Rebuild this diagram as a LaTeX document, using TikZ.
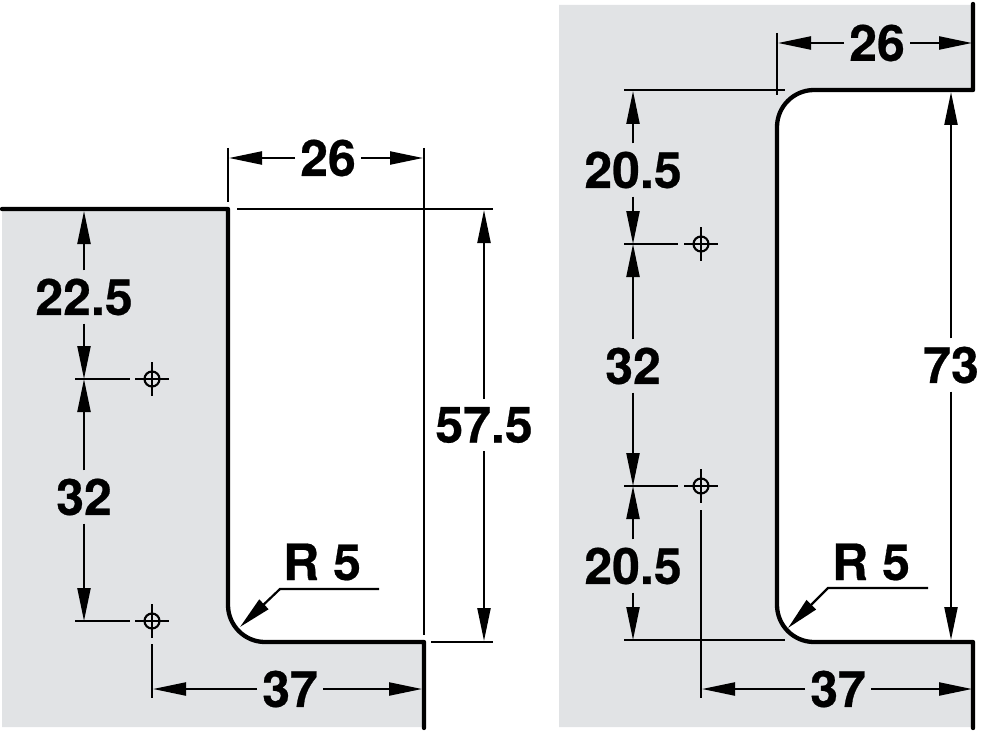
\documentclass[tikz,border=0pt]{standalone}
\usepackage{fontspec}
\setmainfont[BoldFeatures={FakeBold=0.5}]{TeX Gyre Heros}
\usetikzlibrary{arrows.meta}
\definecolor{panelgray}{HTML}{E1E3E5}
\tikzset{
    profile/.style={line width=4.3pt, line cap=round, line join=round},
    thinline/.style={line width=2.2pt},
    dimarrow/.style={thinline, -{Triangle[length=33pt,width=13pt]}},
    dimtext/.style={font=\fontsize{50}{52}\bfseries\selectfont, inner xsep=5pt, inner ysep=8pt},
    hole/.pic={
        \draw[line width=2.1pt] (0,0) circle (7.5);
        \draw[line width=2.1pt] (-17,0) -- (17,0) (0,-17) -- (0,17);
    }
}
\begin{document}
\begin{tikzpicture}[x=1pt,y=-1pt]
    \useasboundingbox (0,0) rectangle (992,730);

    % Left part: grey faces
    \fill[panelgray] (2,210) -- (228,210) -- (228,605) .. controls (228,625.4) and (244.6,642) .. (265,642)
        -- (424,642) -- (424,727) -- (2,727) -- cycle;
    % Right part: grey faces
    \fill[panelgray] (559,5) -- (973,5) -- (973,90) -- (814,90) .. controls (793.6,90) and (777,106.6) .. (777,127)
        -- (777,605) .. controls (777,625.4) and (793.6,642) .. (814,642)
        -- (973,642) -- (973,727) -- (559,727) -- cycle;

    % Left part: outline
    \draw[profile] (2,209) -- (228,209) -- (228,605) .. controls (228,625.4) and (244.6,642) .. (265,642)
        -- (424,642) -- (424,728);
    % Right part: outline
    \draw[profile] (973,4) -- (973,90) -- (814,90) .. controls (793.6,90) and (777,106.6) .. (777,127)
        -- (777,605) .. controls (777,625.4) and (793.6,642) .. (814,642)
        -- (973,642) -- (973,728);

    % Mounting holes
    \pic at (152,379) {hole};
    \pic at (152,621) {hole};
    \pic at (701,244) {hole};
    \pic at (701,486) {hole};

    % Left part: extension lines
    \draw[thinline] (228,148) -- (228,202);
    \draw[thinline] (424,148) -- (424,635);
    \draw[thinline] (237,209) -- (493,209);
    \draw[thinline] (431,642) -- (493,642);
    \draw[thinline] (75,379) -- (130,379);
    \draw[thinline] (75,621) -- (130,621);
    \draw[thinline] (152,644) -- (152,698);

    % Left part: labels
    \node[dimtext] (widthL) at (328,158) {26};
    \node[dimtext] (depthL) at (484,425) {57.5};
    \node[dimtext] (topL) at (84,297) {22.5};
    \node[dimtext] (holesL) at (84,497) {32};
    \node[dimtext] (baseL) at (290,689) {37};
    \node[dimtext, inner sep=0pt] (radiusL) at (322,562) {R 5};

    % Left part: named ends of the dimension lines
    \coordinate (wLa) at (229,158);
    \coordinate (wLb) at (423,158);
    \coordinate (dLa) at (484,210);
    \coordinate (dLb) at (484,641);
    \coordinate (tLa) at (84,211);
    \coordinate (tLb) at (84,379);
    \coordinate (hLa) at (84,379);
    \coordinate (hLb) at (84,621);
    \coordinate (bLa) at (153,689);
    \coordinate (bLb) at (422,689);

    % Left part: dimension arrows
    \draw[dimarrow] (widthL) -- (wLa);
    \draw[dimarrow] (widthL) -- (wLb);
    \draw[dimarrow] (depthL) -- (dLa);
    \draw[dimarrow] (depthL) -- (dLb);
    \draw[dimarrow] (topL) -- (tLa);
    \draw[dimarrow] (topL) -- (tLb);
    \draw[dimarrow] (holesL) -- (hLa);
    \draw[dimarrow] (holesL) -- (hLb);
    \draw[dimarrow] (baseL) -- (bLa);
    \draw[dimarrow] (baseL) -- (bLb);
    \coordinate (rLend) at (379,589);
    \coordinate (rLtip) at (240,627);
    \draw[dimarrow] (rLend) -- (280,589) -- (rLtip);

    % Right part: extension lines
    \draw[thinline] (777,33) -- (777,95);
    \draw[thinline] (624,90) -- (785,90);
    \draw[thinline] (624,244) -- (678,244);
    \draw[thinline] (624,486) -- (678,486);
    \draw[thinline] (624,640) -- (785,640);
    \draw[thinline] (701,510) -- (701,698);

    % Right part: labels
    \node[dimtext] (widthR) at (877,43) {26};
    \node[dimtext] (heightR) at (951,365) {73};
    \node[dimtext] (topR) at (633,170) {20.5};
    \node[dimtext] (holesR) at (633,366) {32};
    \node[dimtext] (lowR) at (633,566) {20.5};
    \node[dimtext] (baseR) at (838,689) {37};
    \node[dimtext, inner sep=0pt] (radiusR) at (871,562) {R 5};

    % Right part: named ends of the dimension lines
    \coordinate (wRa) at (778,43);
    \coordinate (wRb) at (972,43);
    \coordinate (aRa) at (951,92);
    \coordinate (aRb) at (951,640);
    \coordinate (tRa) at (633,91);
    \coordinate (tRb) at (633,244);
    \coordinate (hRa) at (633,244);
    \coordinate (hRb) at (633,486);
    \coordinate (lRa) at (633,486);
    \coordinate (lRb) at (633,640);
    \coordinate (bRa) at (702,689);
    \coordinate (bRb) at (972,689);

    % Right part: dimension arrows
    \draw[dimarrow] (widthR) -- (wRa);
    \draw[dimarrow] (widthR) -- (wRb);
    \draw[dimarrow] (heightR) -- (aRa);
    \draw[dimarrow] (heightR) -- (aRb);
    \draw[dimarrow] (topR) -- (tRa);
    \draw[dimarrow] (topR) -- (tRb);
    \draw[dimarrow] (holesR) -- (hRa);
    \draw[dimarrow] (holesR) -- (hRb);
    \draw[dimarrow] (lowR) -- (lRa);
    \draw[dimarrow] (lowR) -- (lRb);
    \draw[dimarrow] (baseR) -- (bRa);
    \draw[dimarrow] (baseR) -- (bRb);
    \coordinate (rRend) at (928,588);
    \coordinate (rRtip) at (788,628);
    \draw[dimarrow] (rRend) -- (828,588) -- (rRtip);
\end{tikzpicture}
\end{document}
